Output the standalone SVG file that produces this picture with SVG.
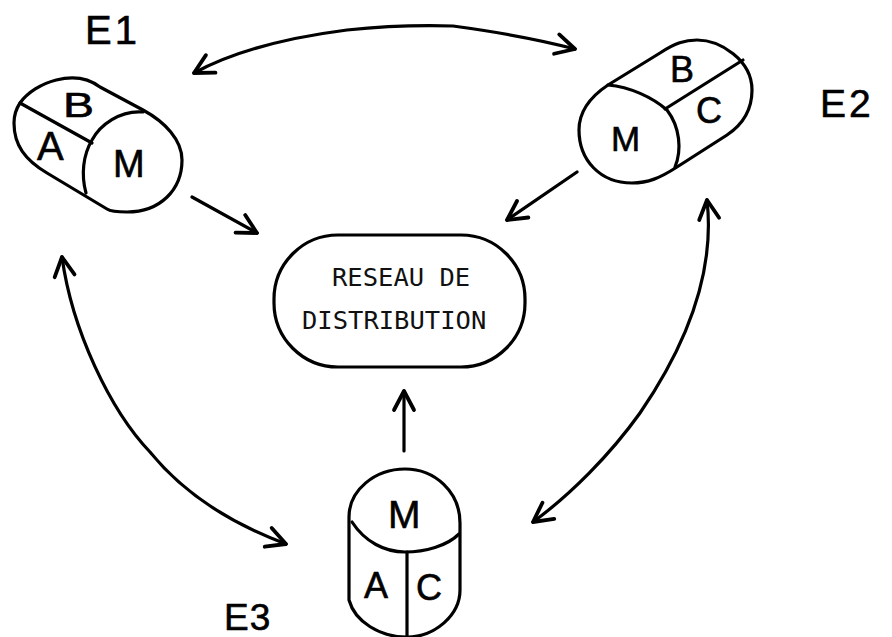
<svg xmlns="http://www.w3.org/2000/svg" width="892" height="637" viewBox="0 0 892 637">
  <style>
    .ln{fill:none;stroke:#000;stroke-width:3.2;stroke-linecap:round;stroke-linejoin:round}
    .hw{font-family:"Liberation Sans",Arial,sans-serif;fill:#000;stroke:#000;stroke-width:.6}
    .mono{font-family:"DejaVu Sans Mono","Liberation Mono",monospace;font-size:25.5px;fill:#111}
  </style>
  <defs>
    <marker id="head" markerUnits="userSpaceOnUse" markerWidth="44" markerHeight="44" viewBox="-22 -22 44 44" refX="0" refY="0" orient="auto-start-reverse" overflow="visible">
      <path d="M-19,-10 L0,0 L-19,10" fill="none" stroke="#000" stroke-width="3.8" stroke-linecap="round" stroke-linejoin="round"/>
    </marker>
  </defs>
  <rect width="892" height="637" fill="#fff"/>

  <g id="connectors">
    <path class="ln" marker-start="url(#head)" marker-end="url(#head)" d="M194,73 C240,48 300,36 347,30 C385,26 420,25 453,26 C490,31 530,37 575,49"/>
    <path class="ln" marker-start="url(#head)" marker-end="url(#head)" d="M62,257 C72,330 110,410 150,452 C185,495 235,525 286,544"/>
    <path class="ln" marker-start="url(#head)" marker-end="url(#head)" d="M707,200 C715,270 690,340 640,413 C610,455 570,495 533,522"/>
    <path class="ln" marker-end="url(#head)" d="M192,197 L257,233"/>
    <path class="ln" marker-end="url(#head)" d="M577,172 L507,220"/>
    <path class="ln" marker-end="url(#head)" d="M404,451 L404,391"/>
  </g>

  <g id="E1">
    <path class="ln" d="M20,103 C35,82 75,68 100,87 L143,110 C165,122 182,140 182,160 C182,190 160,212 127,212 C115,212 110,211 107,209 L47,173 C25,160 14,145 14,123 C14,115 16,109 20,103Z"/>
    <path class="ln" d="M143,112 C120,110 100,125 92,140 C83,155 81,175 86,193"/>
    <path class="ln" d="M20,103 L92,143"/>
    <text class="hw" x="85" y="44" font-size="40" letter-spacing="3">E1</text>
    <text class="hw" x="63" y="117" font-size="35" textLength="31" lengthAdjust="spacingAndGlyphs">B</text>
    <text class="hw" x="37" y="160" font-size="40">A</text>
    <text class="hw" x="113" y="177" font-size="38">M</text>
  </g>

  <g id="E2">
    <path class="ln" d="M608,85 L660,53 C675,43 685,40 697,40 C720,40 752,60 752,90 C752,110 742,125 727,135 L677,167 C660,178 648,183 632,183 C600,183 579,160 579,130 C579,112 590,97 608,85Z"/>
    <path class="ln" d="M608,85 C630,87 652,97 667,110 C680,127 682,150 675,167"/>
    <path class="ln" d="M665,109 L743,60"/>
    <text class="hw" x="670" y="82" font-size="36">B</text>
    <text class="hw" x="696" y="123" font-size="36">C</text>
    <text class="hw" x="611" y="151" font-size="35">M</text>
    <text class="hw" x="820" y="117" font-size="39" letter-spacing="3">E2</text>
  </g>

  <g id="E3">
    <path class="ln" d="M349,600 L349,517 C349,490 375,469 405,469 C435,469 460,492 460,523 L460,590 C460,615 435,637 407,637 C380,637 355,622 349,600Z"/>
    <path class="ln" d="M352,522 C365,542 385,552 405,552 C425,552 447,546 459,534"/>
    <path class="ln" d="M407,552 L407,637"/>
    <text class="hw" x="388" y="528" font-size="39">M</text>
    <text class="hw" x="364" y="598" font-size="36">A</text>
    <text class="hw" x="416" y="600" font-size="36">C</text>
    <text class="hw" x="224" y="630" font-size="37" letter-spacing="1">E3</text>
  </g>

  <g id="reseau">
    <rect class="ln" x="274" y="235" width="251" height="132" rx="64" ry="64"/>
    <text class="mono" x="332" y="286">RESEAU DE</text>
    <text class="mono" x="302" y="329">DISTRIBUTION</text>
  </g>
</svg>
